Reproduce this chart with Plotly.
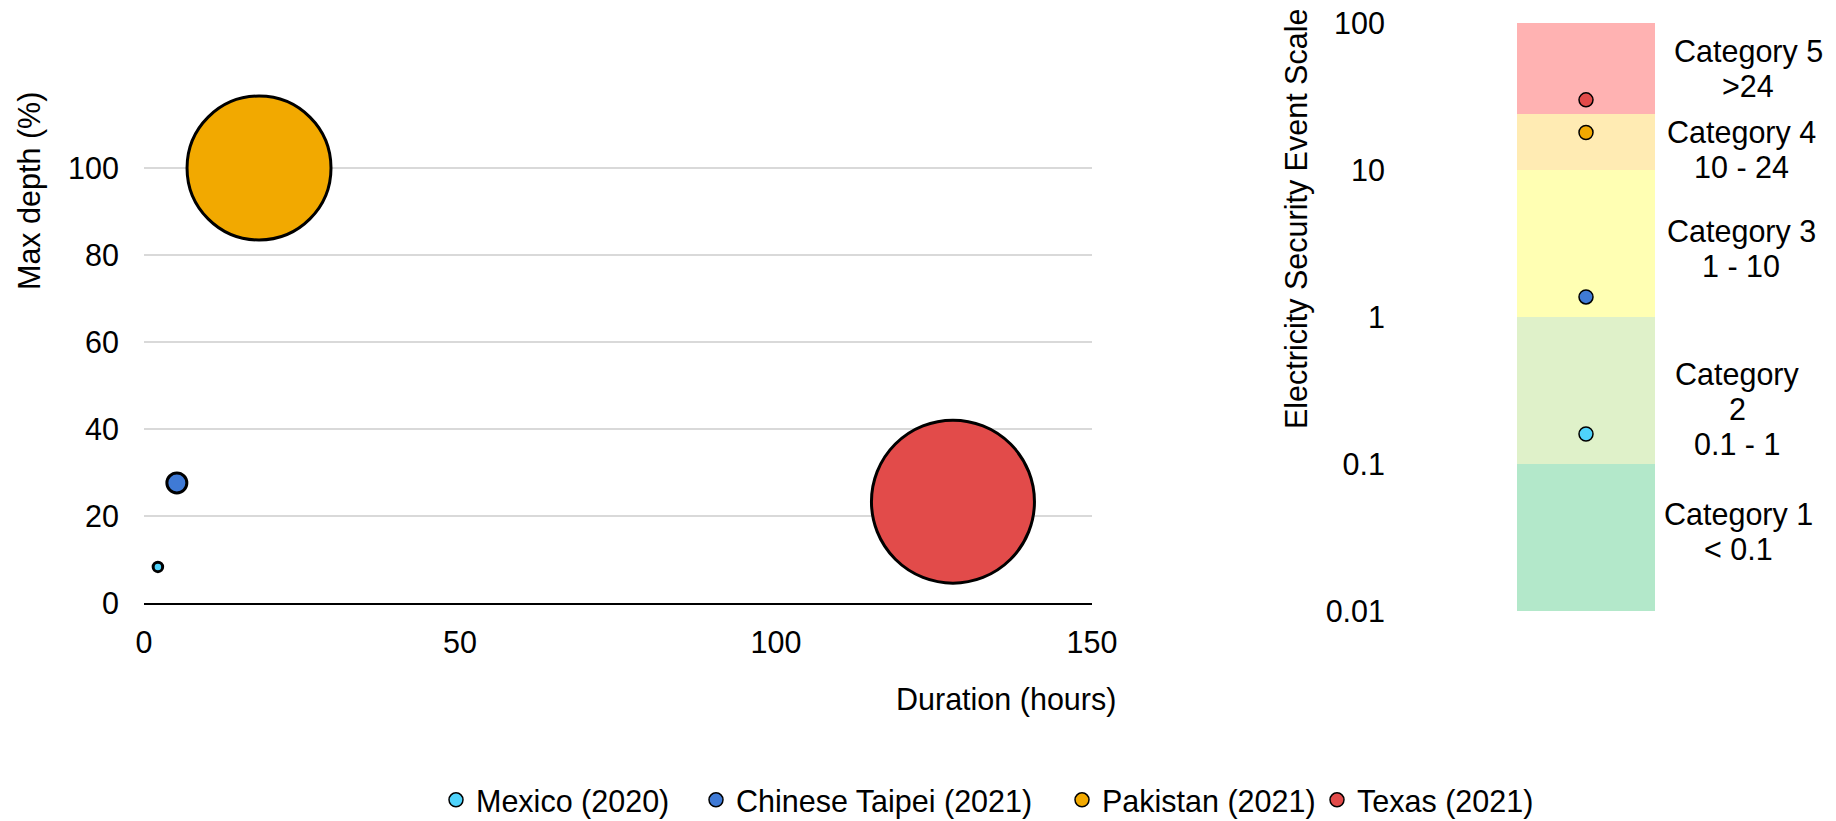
import plotly.graph_objects as go

# ── Data ────────────────────────────────────────────────────────────────────
EVENTS      = ['Mexico (2020)', 'Chinese Taipei (2021)', 'Pakistan (2021)', 'Texas (2021)']
DURATION_H  = [2.2, 5.2, 18.2, 128]        # hours
MAX_DEPTH   = [8.3, 27.6, 100, 23.3]       # %
BUBBLE_AREA = [0.34, 1.5, 78, 100]         # relative bubble area (Texas = 100)
EVENT_SCALE = [0.16, 1.37, 18, 30]         # electricity security event scale

BAND_EDGES  = [0.01, 0.1, 1, 10, 24, 100]
BAND_NAMES  = [['Category 1', '< 0.1'],
               ['Category', '2', '0.1 - 1'],
               ['Category 3', '1 - 10'],
               ['Category 4', '10 - 24'],
               ['Category 5', '>24']]

X_TICKS = [0, 50, 100, 150]
Y_TICKS = [0, 20, 40, 60, 80, 100]
LOG_TICKS = [0.01, 0.1, 1, 10, 100]

# ── Style ───────────────────────────────────────────────────────────────────
COLORS      = ['#4fd3fb', '#3f7ad6', '#f2a900', '#e24b4a']
BAND_COLORS = ['#b3e8ca', '#dff1c9', '#ffffb3', '#ffebb3', '#ffb2b2']
FONT        = 'Liberation Sans, Arial, sans-serif'
FS          = 30.5
W, H        = 1836, 821


def px_x(p):
    return p / W


def px_y(p):
    return 1 - p / H


fig = go.Figure()

# bubbles (left panel)
sizeref = 50 / 81.5 ** 2
for name, x, y, a, c in zip(EVENTS, DURATION_H, MAX_DEPTH, BUBBLE_AREA, COLORS):
    fig.add_trace(go.Scatter(
        x=[x], y=[y], mode='markers', name=name, showlegend=False,
        marker=dict(size=[a], sizemode='area', sizeref=sizeref, color=c,
                    opacity=1, line=dict(color='black', width=3)),
        cliponaxis=False, xaxis='x', yaxis='y'
    ))

# event-scale dots (right panel) – each one feeds its own legend entry
legend_ids = ['legend', 'legend2', 'legend3', 'legend4']
for name, v, c, lg in zip(EVENTS, EVENT_SCALE, COLORS, legend_ids):
    fig.add_trace(go.Scatter(
        x=[0], y=[v], mode='markers', name=name, legend=lg,
        marker=dict(size=14, color=c, line=dict(color='black', width=1.5)),
        cliponaxis=False, xaxis='x2', yaxis='y2'
    ))

# category bands
shapes = []
for lo, hi, col in zip(BAND_EDGES[:-1], BAND_EDGES[1:], BAND_COLORS):
    shapes.append(dict(type='rect', xref='x2', yref='y2', x0=-0.5, x1=0.5,
                       y0=lo, y1=hi, fillcolor=col, line=dict(width=0),
                       layer='below'))

# category labels, one annotation per line
annotations = []
label_centers = [532, 409, 249, 150, 69]     # px (vertical centre of block)
label_x       = [1738, 1737, 1741, 1741, 1748]
LINE_H = 34.5
for lines, cy, cx in zip(BAND_NAMES, label_centers, label_x):
    n = len(lines)
    for i, t in enumerate(lines):
        yy = cy + (i - (n - 1) / 2) * LINE_H
        annotations.append(dict(text=t, x=px_x(cx), y=px_y(yy), xref='paper', yref='paper',
                                showarrow=False, xanchor='center', yanchor='middle',
                                font=dict(size=FS, color='black', family=FONT)))

# axis titles
annotations += [
    dict(text='Max depth (%)', x=px_x(29), y=px_y(191), xref='paper', yref='paper',
         textangle=-90, showarrow=False, xanchor='center', yanchor='middle',
         font=dict(size=FS, color='black', family=FONT)),
    dict(text='Duration (hours)', x=px_x(1118), y=px_y(699), xref='paper', yref='paper',
         showarrow=False, xanchor='right', yanchor='middle',
         font=dict(size=FS, color='black', family=FONT)),
    dict(text='Electricity Security Event Scale', x=px_x(1297), y=px_y(219),
         xref='paper', yref='paper', textangle=-90, showarrow=False,
         xanchor='center', yanchor='middle',
         font=dict(size=FS, color='black', family=FONT)),
]

x2_left = 1392
x2_unit = 138                    # px per x2 unit (band width)
x2_zero = 1586

# legend entries placed one by one (marker centre in px)
legend_marker_px = [456, 716, 1082, 1337]
legends = {}
for lg, mx in zip(legend_ids, legend_marker_px):
    legends[lg] = dict(orientation='h', x=px_x(mx - 20), xanchor='left',
                       y=px_y(800), yanchor='middle',
                       font=dict(size=FS, family=FONT, color='black'),
                       bgcolor='rgba(0,0,0,0)', borderwidth=0, itemsizing='trace')

fig.update_layout(
    template='none',
    width=W, height=H,
    margin=dict(l=0, r=0, t=0, b=0, pad=0, autoexpand=False),
    paper_bgcolor='white', plot_bgcolor='white',
    font=dict(family=FONT, size=FS, color='black'),
    xaxis=dict(domain=[px_x(144), px_x(1092)], range=[0, 150], tickvals=X_TICKS,
               showgrid=False, zeroline=False, showline=True, linecolor='black',
               linewidth=2, ticks='', ticklabelstandoff=11, anchor='y',
               automargin=False),
    yaxis=dict(domain=[px_y(603), px_y(81)], range=[0, 120], tickvals=Y_TICKS,
               showgrid=True, gridcolor='#d9d9d9', gridwidth=1.5, zeroline=False,
               showline=False, ticks='', ticklabelstandoff=24, anchor='x',
               automargin=False),
    xaxis2=dict(domain=[px_x(x2_left), 1],
                range=[(x2_left - x2_zero) / x2_unit, (W - x2_zero) / x2_unit],
                visible=False, anchor='y2', automargin=False),
    yaxis2=dict(domain=[px_y(611), px_y(23)], type='log', range=[-2, 2],
                tickvals=LOG_TICKS, ticktext=['0.01', '0.1', '1', '10', '100'],
                showgrid=False, zeroline=False, showline=False, ticks='',
                ticklabelstandoff=6, anchor='x2', automargin=False),
    shapes=shapes,
    annotations=annotations,
    **legends,
)

# page body has a default 8px margin; drop it so the figure sits at (0, 0)
fig.write_html('out.html', config={'displayModeBar': False},
               post_script="document.body.style.margin='0';")
